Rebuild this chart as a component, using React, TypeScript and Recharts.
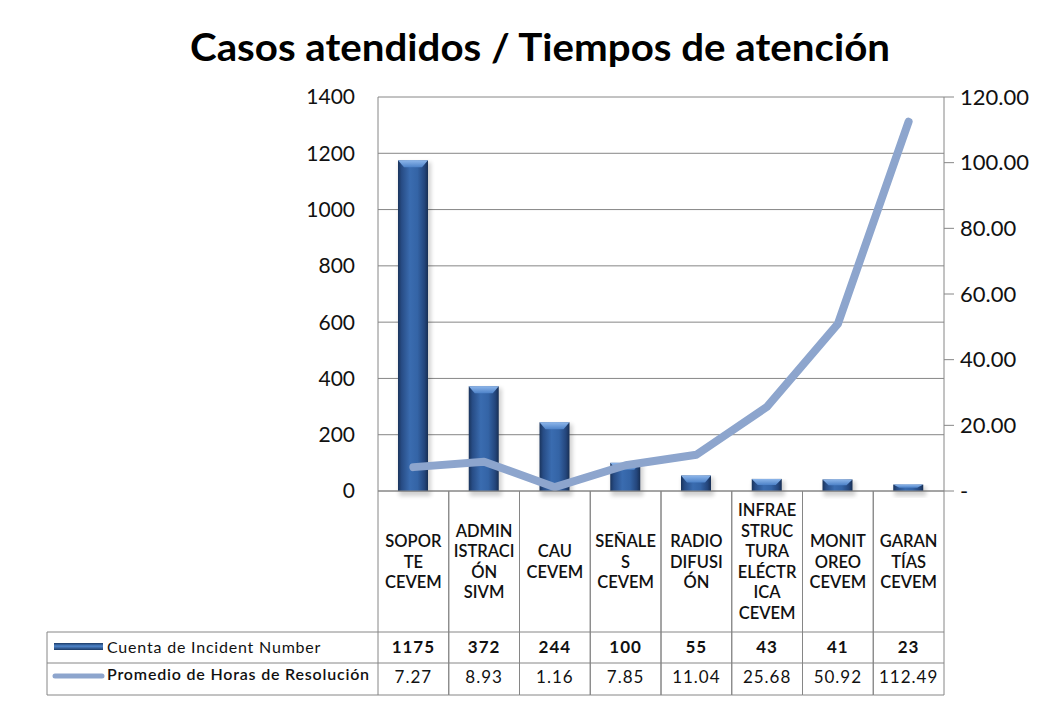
import React from 'react';
import { ComposedChart, Bar, Line, XAxis, YAxis, CartesianGrid } from 'recharts';

const title = 'Casos atendidos / Tiempos de atención';
const categories = [
  'SOPOR\nTE\nCEVEM',
  'ADMIN\nISTRACI\nÓN\nSIVM',
  'CAU\nCEVEM',
  'SEÑALE\nS\nCEVEM',
  'RADIO\nDIFUSI\nÓN',
  'INFRAE\nSTRUC\nTURA\nELÉCTR\nICA\nCEVEM',
  'MONIT\nOREO\nCEVEM',
  'GARAN\nTÍAS\nCEVEM',
];
const incidentCounts = [1175, 372, 244, 100, 55, 43, 41, 23];
const avgHours = [7.27, 8.93, 1.16, 7.85, 11.04, 25.68, 50.92, 112.49];
const leftTicks = [0, 200, 400, 600, 800, 1000, 1200, 1400];
const rightTicks = [0, 20, 40, 60, 80, 100, 120];
const seriesNames = ['Cuenta de Incident Number', 'Promedio de Horas de Resolución'];

const data = categories.map((c, i) => ({ name: c, count: incidentCounts[i], hours: avgHours[i] }));

const CHART_W = 1063;
const CHART_H = 702;
const LEFT_W = 378;
const RIGHT_W = 119;
const TOP = 97;
const XAXIS_H = 211;
const PLOT_W = CHART_W - LEFT_W - RIGHT_W;
const BAND = PLOT_W / categories.length;
const GRID = '#868686';
const LINE_COLOR = '#8DA5CD';
const FONT = 'Lato, "Open Sans", sans-serif';

const CAT_H = 141;
const ROW1_H = 31;
const ROW2_H = 32;
const LEGEND_W = 331;

const CylBar = (props: any) => {
  const { x, y, width, height } = props;
  if (!height || height <= 0) return null;
  const bev = Math.min(7, height / 2);
  const ins = Math.min(6, width / 4);
  return (
    <g>
      <rect x={x + 1} y={y + 2} width={width + 2} height={height + 3} fill="#000" opacity={0.18} filter="url(#barShadow)" />
      <rect x={x} y={y} width={width} height={height} fill="url(#barGrad)" />
      <polygon
        points={`${x},${y} ${x + width},${y} ${x + width - ins},${y + bev} ${x + ins},${y + bev}`}
        fill="url(#capGrad)"
      />
    </g>
  );
};

const TableTick = (props: any) => {
  const { x, y, payload, index } = props;
  const left = x - BAND / 2;
  const right = x + BAND / 2;
  const r1 = y + CAT_H;
  const r2 = r1 + ROW1_H;
  const r3 = r2 + ROW2_H;
  const lines = String(payload.value).split('\n');
  const lh = 20.5;
  const cy = y + CAT_H / 2 + 2;
  const startY = cy - ((lines.length - 1) * lh) / 2;
  return (
    <g>
      <line x1={left} y1={y} x2={left} y2={r3} stroke={GRID} />
      <line x1={right} y1={y} x2={right} y2={r3} stroke={GRID} />
      <line x1={left} y1={r1} x2={right} y2={r1} stroke={GRID} />
      <line x1={left} y1={r2} x2={right} y2={r2} stroke={GRID} />
      <line x1={left} y1={r3} x2={right} y2={r3} stroke={GRID} />
      <text x={x} textAnchor="middle" fontFamily={FONT} fontSize={16.5} fontWeight={600} fill="#111">
        {lines.map((l, i) => (
          <tspan key={i} x={x} y={startY + i * lh} dominantBaseline="middle">{l}</tspan>
        ))}
      </text>
      <text x={x} y={r1 + ROW1_H / 2 + 1} textAnchor="middle" dominantBaseline="middle" fontFamily={FONT} fontSize={17} letterSpacing={1} fontWeight={700} fill="#111">
        {incidentCounts[index]}
      </text>
      <text x={x} y={r2 + ROW2_H / 2} textAnchor="middle" dominantBaseline="middle" fontFamily={FONT} fontSize={17} letterSpacing={1} fontWeight={400} fill="#111">
        {avgHours[index].toFixed(2)}
      </text>
      {index === 0 && (
        <g>
          <line x1={left - LEGEND_W} y1={r1} x2={left} y2={r1} stroke={GRID} />
          <line x1={left - LEGEND_W} y1={r2} x2={left} y2={r2} stroke={GRID} />
          <line x1={left - LEGEND_W} y1={r3} x2={left} y2={r3} stroke={GRID} />
          <line x1={left - LEGEND_W} y1={r1} x2={left - LEGEND_W} y2={r3} stroke={GRID} />
          <rect x={left - LEGEND_W + 7} y={r1 + 11} width={49} height={7} fill="url(#swatchGrad)" />
          <line x1={left - LEGEND_W + 8} y1={r2 + 13} x2={left - LEGEND_W + 55} y2={r2 + 13} stroke={LINE_COLOR} strokeWidth={5} strokeLinecap="round" />
          <text x={left - LEGEND_W + 60} y={r1 + ROW1_H / 2 + 1} dominantBaseline="middle" fontFamily={FONT} fontSize={16} letterSpacing={0.8} fill="#111">
            {seriesNames[0]}
          </text>
          <text x={left - LEGEND_W + 60} y={r2 + 13} dominantBaseline="middle" fontFamily={FONT} fontSize={16} letterSpacing={0.8} fontWeight={600} fill="#111">
            {seriesNames[1]}
          </text>
        </g>
      )}
    </g>
  );
};

export default function App() {
  return (
    <div style={{ position: 'absolute', left: 0, top: 0, width: CHART_W, height: CHART_H, background: '#fff' }}>
      <svg width={CHART_W} height={80} style={{ position: 'absolute', left: 0, top: 0 }}>
        <text x={540} y={61} textAnchor="middle" fontFamily={FONT} fontWeight={700} fontSize={38} textLength={700} lengthAdjust="spacingAndGlyphs" fill="#000">
          {title}
        </text>
      </svg>
      <div style={{ position: 'absolute', left: 0, top: 0 }}>
        <ComposedChart width={CHART_W} height={CHART_H} data={data} margin={{ top: TOP, right: 0, left: 0, bottom: 0 }}>
          <defs>
            <linearGradient id="barGrad" x1="0" y1="0" x2="1" y2="0">
              <stop offset="0%" stopColor="#1A345C" />
              <stop offset="12%" stopColor="#274C85" />
              <stop offset="40%" stopColor="#3A6CB0" />
              <stop offset="65%" stopColor="#3464A6" />
              <stop offset="88%" stopColor="#24467C" />
              <stop offset="100%" stopColor="#182F54" />
            </linearGradient>
            <linearGradient id="capGrad" x1="0" y1="0" x2="0" y2="1">
              <stop offset="0%" stopColor="#8DB6EA" />
              <stop offset="100%" stopColor="#4D82C8" />
            </linearGradient>
            <linearGradient id="swatchGrad" x1="0" y1="0" x2="0" y2="1">
              <stop offset="0%" stopColor="#1B3A66" />
              <stop offset="45%" stopColor="#4F86CC" />
              <stop offset="100%" stopColor="#1B3A66" />
            </linearGradient>
            <filter id="barShadow" x="-50%" y="-10%" width="200%" height="130%">
              <feGaussianBlur stdDeviation="2" />
            </filter>
          </defs>
          <CartesianGrid yAxisId="left" vertical={false} stroke={GRID} strokeWidth={1} />
          <XAxis
            dataKey="name"
            height={XAXIS_H}
            interval={0}
            tickLine={false}
            tickSize={0}
            tickMargin={0}
            axisLine={{ stroke: GRID }}
            tick={<TableTick />}
          />
          <YAxis
            yAxisId="left"
            width={LEFT_W}
            domain={[0, 1400]}
            ticks={leftTicks}
            interval={0}
            tickLine={false}
            tickSize={0}
            tickMargin={23}
            axisLine={{ stroke: GRID }}
            tick={{ fontFamily: FONT, fontSize: 21, fill: '#111' }}
          />
          <YAxis
            yAxisId="right"
            orientation="right"
            width={RIGHT_W}
            domain={[0, 120]}
            ticks={rightTicks}
            interval={0}
            tickSize={10}
            tickMargin={6}
            tickLine={{ stroke: GRID }}
            axisLine={{ stroke: GRID }}
            tickFormatter={(v: number) => (v === 0 ? '-' : v.toFixed(2))}
            tick={{ fontFamily: FONT, fontSize: 22, fill: '#111' }}
          />
          <Bar yAxisId="left" dataKey="count" barSize={30} shape={<CylBar />} isAnimationActive={false} />
          <Line
            yAxisId="right"
            dataKey="hours"
            type="linear"
            stroke={LINE_COLOR}
            strokeWidth={8}
            strokeLinecap="round"
            strokeLinejoin="round"
            dot={false}
            activeDot={false}
            isAnimationActive={false}
          />
        </ComposedChart>
      </div>
    </div>
  );
}
